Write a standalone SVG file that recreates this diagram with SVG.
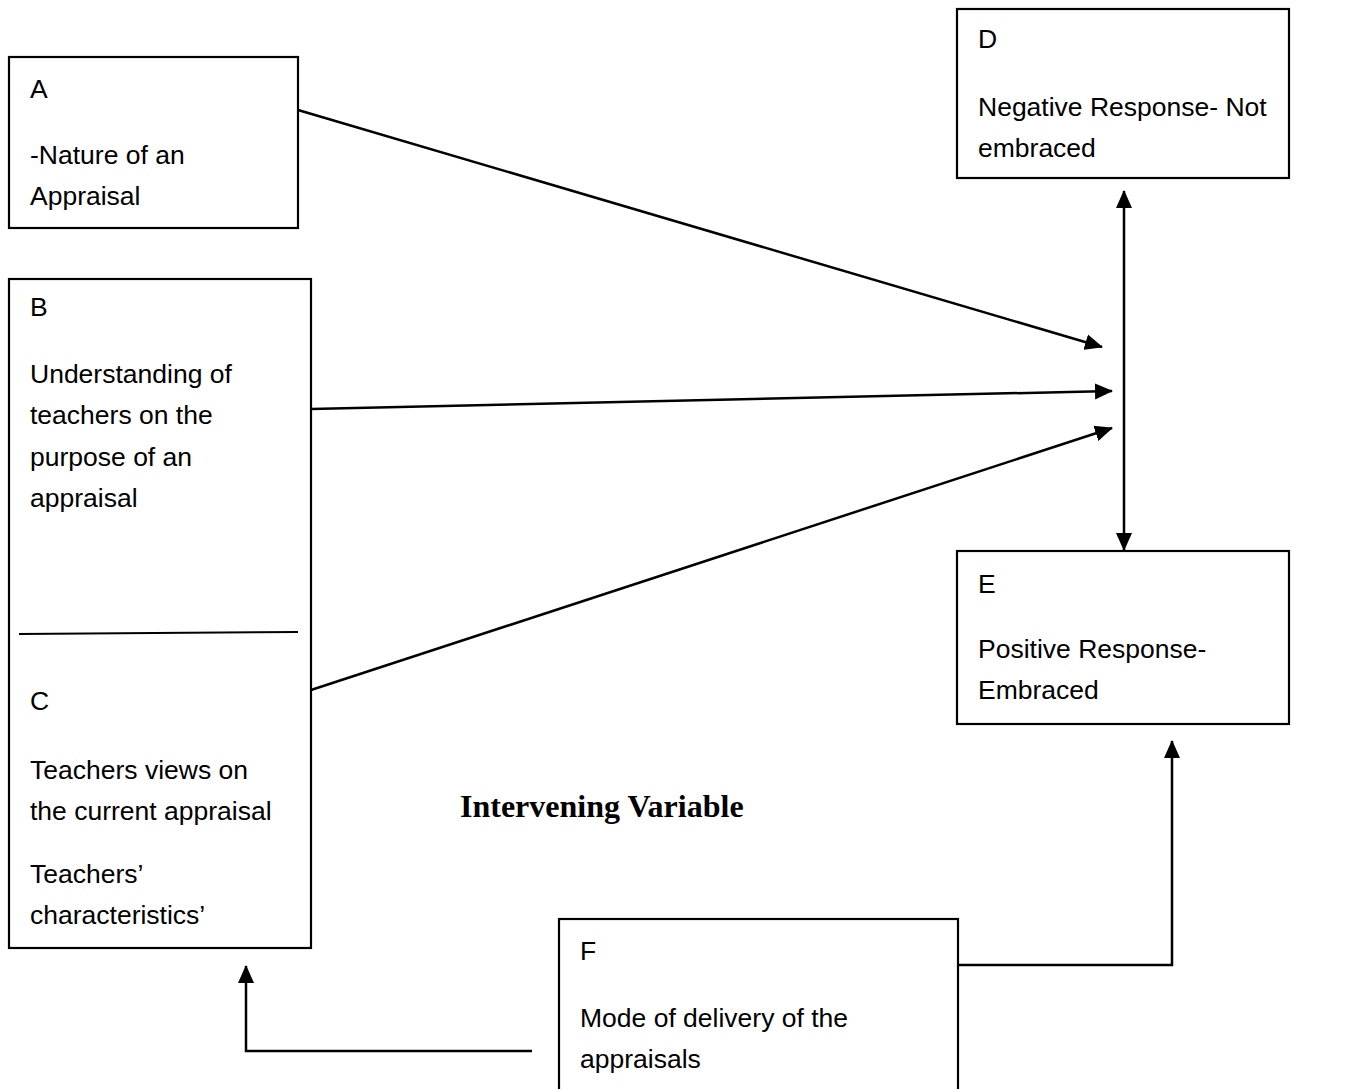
<svg xmlns="http://www.w3.org/2000/svg" width="1354" height="1089" viewBox="0 0 1354 1089">
<style>
.box{fill:#fff;stroke:#000;stroke-width:2.2}
.t{font-family:"Liberation Sans",Arial,sans-serif;font-size:26.5px;fill:#000}
.h{font-family:"Liberation Serif","Times New Roman",serif;font-size:32px;font-weight:bold;fill:#000}
.c{fill:none;stroke:#000;stroke-width:2.5}
</style>
<defs>
<marker id="ah" markerUnits="userSpaceOnUse" markerWidth="18" markerHeight="17" refX="17" refY="8" orient="auto-start-reverse" viewBox="0 0 18 16">
<path d="M0,0 L18,8 L0,16 z" fill="#000"/>
</marker>
</defs>
<rect width="1354" height="1089" fill="#fff"/>
<g id="nodeA">
<rect class="box" x="9" y="57" width="289" height="171"/>
<text class="t" x="30" y="98">A</text>
<text class="t" x="30" y="164">-Nature of an</text>
<text class="t" x="30" y="205">Appraisal</text>
</g>
<g id="nodeBC">
<rect class="box" x="9" y="279" width="302" height="669"/>
<line x1="19" y1="634" x2="298" y2="632" stroke="#000" stroke-width="2"/>
</g>
<g id="nodeB">
<text class="t" x="30" y="316">B</text>
<text class="t" x="30" y="383">Understanding of</text>
<text class="t" x="30" y="424">teachers on the</text>
<text class="t" x="30" y="466">purpose of an</text>
<text class="t" x="30" y="507">appraisal</text>
</g>
<g id="nodeC">
<text class="t" x="30" y="710">C</text>
<text class="t" x="30" y="779">Teachers views on</text>
<text class="t" x="30" y="820">the current appraisal</text>
<text class="t" x="30" y="883">Teachers’</text>
<text class="t" x="30" y="924">characteristics’</text>
</g>
<g id="nodeD">
<rect class="box" x="957" y="9" width="332" height="169"/>
<text class="t" x="978" y="48">D</text>
<text class="t" x="978" y="116">Negative Response- Not</text>
<text class="t" x="978" y="157">embraced</text>
</g>
<g id="nodeE">
<rect class="box" x="957" y="551" width="332" height="173"/>
<text class="t" x="978" y="593">E</text>
<text class="t" x="978" y="658">Positive Response-</text>
<text class="t" x="978" y="699">Embraced</text>
</g>
<g id="nodeF">
<rect class="box" x="559" y="919" width="399" height="190"/>
<text class="t" x="580" y="960">F</text>
<text class="t" x="580" y="1027">Mode of delivery of the</text>
<text class="t" x="580" y="1068">appraisals</text>
</g>
<g id="label">
<text class="h" x="460" y="817">Intervening Variable</text>
</g>
<g id="connectors">
<line class="c" x1="298" y1="110" x2="1102" y2="347" marker-end="url(#ah)"/>
<line class="c" x1="311" y1="409" x2="1112" y2="391" marker-end="url(#ah)"/>
<line class="c" x1="311" y1="690" x2="1112" y2="428" marker-end="url(#ah)"/>
<line class="c" x1="1124" y1="191" x2="1124" y2="550" marker-start="url(#ah)" marker-end="url(#ah)"/>
<polyline class="c" points="958,965 1172,965 1172,741" marker-end="url(#ah)"/>
<polyline class="c" points="532,1051 246,1051 246,966" marker-end="url(#ah)"/>
</g>
</svg>
